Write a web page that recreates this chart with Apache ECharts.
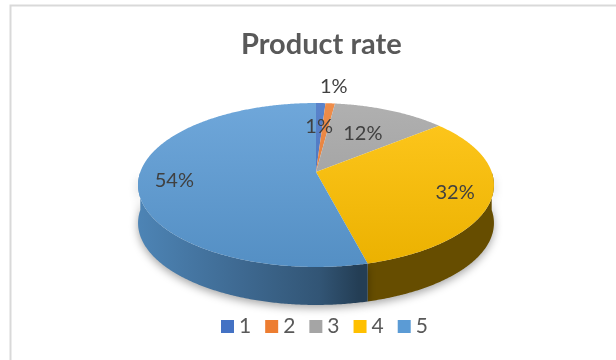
<!DOCTYPE html>
<html><head><meta charset="utf-8">
<script src="https://cdn.jsdelivr.net/npm/echarts@6/dist/echarts.min.js"></script>
<style>html,body{margin:0;padding:0;background:#fff}#c{width:616px;height:360px}</style>
</head><body><div id="c"></div>
<script>
const titleText = 'Product rate';
const categories = ['1', '2', '3', '4', '5'];
const values = [1, 1, 12, 32, 54];
const colors = ['#4472C4', '#ED7D31', '#A5A5A5', '#FFC000', '#5B9BD5'];

const FONT = 'Lato, "Open Sans", sans-serif';
const total = values.reduce((a, b) => a + b, 0);
// 3D pie projection parameters (layout, not data)
const G = { cx: 316, cy: 172, A: 175.7, B: 79.9, k: 0.1586, depth: 38 };

function proj(deg, r) {
  const t = deg * Math.PI / 180;
  const u = r * Math.sin(t), v = -r * Math.cos(t);
  const s = 1 / (1 - G.k * v);
  return [G.cx + G.A * u * s, G.cy + G.B * v * s];
}
function arc(a0, a1, r) {
  const pts = [];
  const n = Math.max(2, Math.ceil((a1 - a0) / 0.5));
  for (let i = 0; i <= n; i++) pts.push(proj(a0 + (a1 - a0) * i / n, r));
  return pts;
}
function hexRgb(h) { h = h.replace('#', ''); return [0, 2, 4].map(i => parseInt(h.substr(i, 2), 16)); }
function shade(h, f) {
  const c = hexRgb(h).map(x => Math.max(0, Math.min(255, Math.round(x * f))));
  return 'rgb(' + c.join(',') + ')';
}
function lighten(h, f) {
  const c = hexRgb(h).map(x => Math.round(x + (255 - x) * f));
  return 'rgb(' + c.join(',') + ')';
}
function wallFill(c) {
  return new echarts.graphic.LinearGradient(G.cx - G.A * 1.013, 0, G.cx + G.A * 1.013, 0, [
    { offset: 0, color: shade(c, 0.85) },
    { offset: 0.29, color: shade(c, 0.68) },
    { offset: 0.51, color: shade(c, 0.55) },
    { offset: 0.62, color: shade(c, 0.40) },
    { offset: 1, color: shade(c, 0.40) }
  ], true);
}
function topFill(c) {
  return new echarts.graphic.LinearGradient(0, 103, 0, 267, [
    { offset: 0, color: lighten(c, 0.12) },
    { offset: 1, color: shade(c, 0.92) }
  ], true);
}
function labelRadius(i) {
  const pct = values[i] / total * 100;
  if (pct >= 20) return 0.8;
  if (pct >= 5) return 0.6;
  // consecutive small slices alternate inside / outside
  let run = 0;
  for (let j = i - 1; j >= 0 && values[j] / total * 100 < 5; j--) run++;
  return run % 2 === 0 ? 0.62 : 1.3;
}

function makeSeries(i) {
  return {
    type: 'custom',
    name: categories[i],
    coordinateSystem: 'none',
    itemStyle: { color: colors[i] },
    data: [[values[i], i]],
    renderItem: function (params, api) {
      const idx = api.value(1);
      const v = api.value(0);
      let start = 0;
      for (let j = 0; j < idx; j++) start += values[j];
      const a0 = start / total * 360, a1 = (start + v) / total * 360;
      const c = colors[idx];
      const children = [];
      const w0 = Math.max(a0, 90), w1 = Math.min(a1, 270);
      if (w1 > w0) {
        const top = arc(w0, w1, 1);
        const bot = top.map(p => [p[0], p[1] + G.depth]).reverse();
        children.push({
          type: 'polygon', shape: { points: top.concat(bot) },
          style: { fill: wallFill(c), shadowBlur: 8, shadowOffsetY: 3, shadowColor: 'rgba(0,0,0,0.35)' }
        });
      }
      const face = [[G.cx, G.cy]].concat(arc(a0, a1, 1));
      children.push({ type: 'polygon', shape: { points: face }, style: { fill: topFill(c) } });
      const lp = proj((a0 + a1) / 2, labelRadius(idx));
      children.push({
        type: 'text', x: lp[0], y: lp[1], z2: 10,
        style: {
          text: Math.round(v / total * 100) + '%', fill: '#404040',
          fontSize: 20, fontFamily: FONT, align: 'center', verticalAlign: 'middle'
        }
      });
      return { type: 'group', children: children };
    }
  };
}

const chart = echarts.init(document.getElementById('c'), null, { renderer: 'canvas' });
chart.setOption({
  animation: false,
  backgroundColor: '#fff',
  title: {
    text: titleText, left: 236, top: 25,
    textStyle: { fontSize: 29, fontWeight: 'bold', color: '#595959', fontFamily: FONT }
  },
  legend: {
    data: categories, left: 216, top: 311,
    icon: 'rect', itemWidth: 13, itemHeight: 13, itemGap: 14,
    textStyle: { fontSize: 21, color: '#595959', fontFamily: FONT }
  },
  graphic: [{
    type: 'rect', shape: { x: 10.5, y: 5.5, width: 700, height: 400 },
    style: { fill: 'none', stroke: '#d9d9d9', lineWidth: 2 }, silent: true
  }],
  series: categories.map((_, i) => makeSeries(i))
});
</script></body></html>
